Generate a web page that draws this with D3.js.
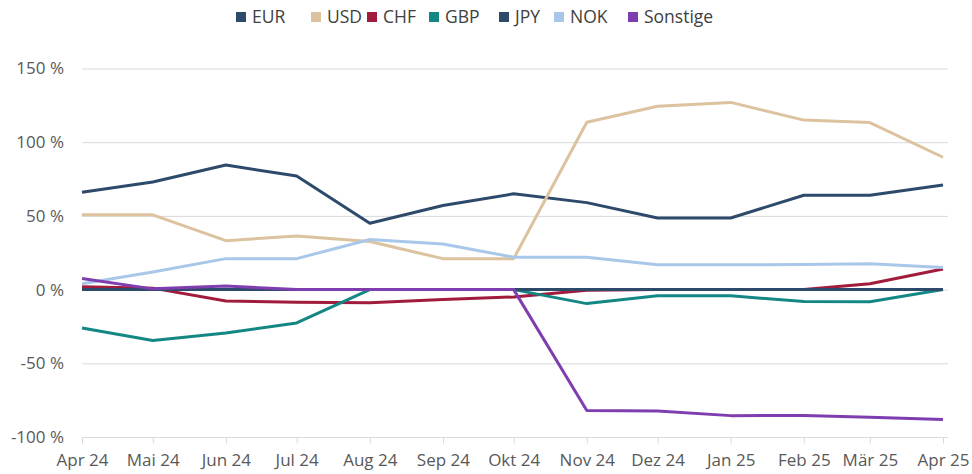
<!DOCTYPE html>
<html>
<head>
<meta charset="utf-8">
<script src="https://cdn.jsdelivr.net/npm/d3@7"></script>
<style>
  body { margin: 0; background: #fff; }
  svg text { font-family: "Open Sans", sans-serif; }
</style>
</head>
<body>
<div id="chart"></div>
<script>
// data
const months = ["2024-04","2024-05","2024-06","2024-07","2024-08","2024-09","2024-10",
                "2024-11","2024-12","2025-01","2025-02","2025-03","2025-04"];
const monthLabels = ["Apr 24","Mai 24","Jun 24","Jul 24","Aug 24","Sep 24","Okt 24",
                     "Nov 24","Dez 24","Jan 25","Feb 25","Mär 25","Apr 25"];
const yTicks = [-100, -50, 0, 50, 100, 150];

const eur = [66, 73, 84.5, 77, 45, 57, 65, 59, 48.6, 48.6, 64, 64, 71];
const usd = [50.7, 50.7, 33.2, 36.4, 32.6, 21, 21, 113.5, 124.4, 127, 115, 113.3, 89.8];
const chf = [2, 1, -7.7, -8.6, -9, -6.8, -5, -0.5, 0, 0, 0, 4, 14];
const gbp = [-26, -34.5, -29.5, -22.6, 0, 0, 0, -9.5, -4.2, -4.2, -8.1, -8.3, 0];
const jpy = [0, 0, 0, 0, 0, 0, 0, 0, 0, 0, 0, 0, 0];
const nok = [4, 12, 21, 21, 34, 31, 22, 22, 16.8, 16.8, 17, 17.6, 15];
const sonst = [7.5, 0.5, 2.5, 0, 0, 0, 0, -82, -82.3, -85.5, -85.4, -86.6, -88.2];

const seriesNames = ["EUR","USD","CHF","GBP","JPY","NOK","Sonstige"];
const seriesColors = ["#2e4a6b","#dcc29e","#a01b3c","#138784","#2e4a6b","#a9c8e9","#7f3eaf"];
const seriesValues = [eur, usd, chf, gbp, jpy, nok, sonst];

const width = 972, height = 474;
const margin = {top: 68.5, right: 29, bottom: 37, left: 82};

const svg = d3.select("#chart")
  .append("svg")
    .attr("width", width)
    .attr("height", height);

const parse = d3.timeParse("%Y-%m");
const dates = months.map(parse);

const x = d3.scaleTime()
  .domain([dates[0], dates[dates.length - 1]])
  .range([margin.left, width - margin.right]);

const y = d3.scaleLinear()
  .domain([-100, 150])
  .range([height - margin.bottom, margin.top]);

// gridlines
svg.append("g")
  .selectAll("line")
  .data(yTicks)
  .join("line")
    .attr("x1", margin.left)
    .attr("x2", width - margin.right + 5)
    .attr("y1", d => y(d) + 0.5)
    .attr("y2", d => y(d) + 0.5)
    .style("stroke", "#d9d9d9")
    .style("stroke-width", 1);

// y labels
svg.append("g")
  .selectAll("text")
  .data(yTicks)
  .join("text")
    .attr("x", margin.left - 18)
    .attr("y", d => y(d))
    .attr("dy", "0.35em")
    .attr("text-anchor", "end")
    .style("font-size", "17px")
    .style("fill", "#595959")
    .text(d => d + " %");

// x axis
const xAxis = svg.append("g")
  .attr("transform", `translate(0, ${y(-100) + 0.5})`)
  .call(d3.axisBottom(x)
    .tickValues(dates)
    .tickFormat((d, i) => monthLabels[i])
    .tickSize(6)
    .tickPadding(10));
xAxis.select(".domain").remove();
xAxis.selectAll(".tick line").style("stroke", "#d9d9d9");
xAxis.selectAll(".tick text")
  .style("font-size", "17px")
  .style("fill", "#595959");

// lines
const line = d3.line()
  .x((d, i) => x(dates[i]))
  .y(d => y(d));

svg.append("g")
  .selectAll("path")
  .data(seriesValues)
  .join("path")
    .attr("d", d => line(d))
    .style("fill", "none")
    .style("stroke", (d, i) => seriesColors[i])
    .style("stroke-width", 3)
    .style("stroke-linejoin", "round");

// legend
const legendX = [236, 311, 367, 429, 499, 554, 628];
const legend = svg.append("g")
  .selectAll("g")
  .data(seriesNames)
  .join("g")
    .attr("transform", (d, i) => `translate(${legendX[i]}, 17)`);
legend.append("rect")
  .attr("x", 0)
  .attr("y", -5)
  .attr("width", 10)
  .attr("height", 10)
  .style("fill", (d, i) => seriesColors[i]);
legend.append("text")
  .attr("x", 16)
  .attr("dy", "0.35em")
  .style("font-size", "17.5px")
  .style("fill", "#404040")
  .text(d => d);
</script>
</body>
</html>
